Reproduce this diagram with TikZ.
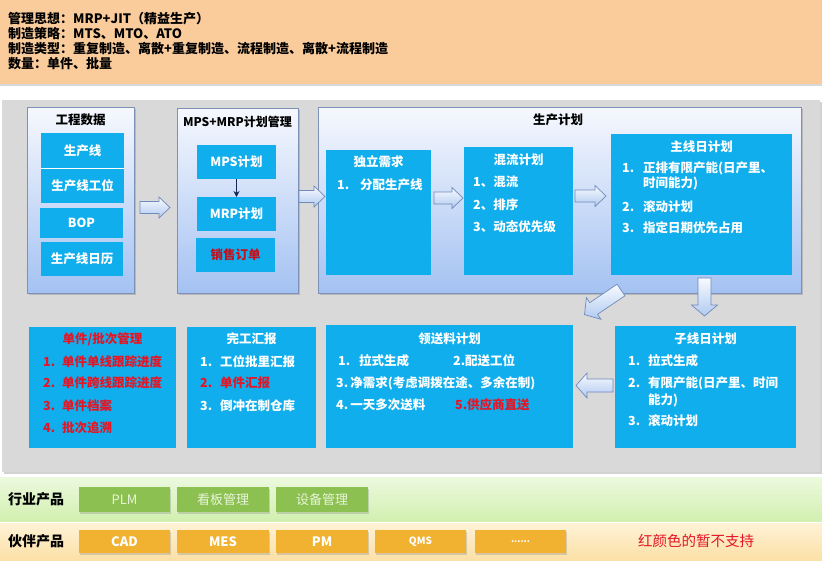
\documentclass[tikz,border=0pt]{standalone}
\usepackage{fontspec}
\setmainfont{Noto Sans CJK SC}
\usetikzlibrary{shadows,arrows.meta}
\definecolor{cyanbox}{RGB}{16,174,236}
\definecolor{greypanel}{RGB}{217,217,217}
\definecolor{headerorange}{RGB}{250,203,155}
\definecolor{panelTop}{RGB}{246,248,254}
\definecolor{panelBot}{RGB}{164,194,242}
\definecolor{panelLine}{RGB}{125,145,182}
\definecolor{arrTop}{RGB}{248,250,255}
\definecolor{arrBot}{RGB}{176,202,240}
\definecolor{arrLine}{RGB}{112,138,186}
\definecolor{redtxt}{RGB}{228,22,38}
\definecolor{darkred}{RGB}{196,16,30}
\definecolor{navy}{RGB}{20,40,90}
\definecolor{greenTop}{RGB}{236,249,222}
\definecolor{greenBot}{RGB}{210,240,176}
\definecolor{greenBtn}{RGB}{140,193,82}
\definecolor{greenBtnTxt}{RGB}{232,244,216}
\definecolor{orangeTop}{RGB}{254,242,214}
\definecolor{orangeBot}{RGB}{252,224,166}
\definecolor{orangeBtn}{RGB}{240,178,48}
\newcommand\myfb{\bfseries\fontsize{12.5}{14}\selectfont}
\newcommand\bx[7]{\node[#1, minimum width={#5-#3}, minimum height={#6-#4}] (#2) at (#3,#4) {#7};}
\newcommand\barrow[6]{%
\begin{scope}[shift={(#1,#2)}, rotate=#3]
\shade[blockarr] (0,-#5) -- ({#4-11},-#5) -- ({#4-11},-#6) -- (#4,0) -- ({#4-11},#6) -- ({#4-11},#5) -- (0,#5) -- cycle;
\end{scope}}
\tikzset{
  base/.style={anchor=north west, inner sep=0pt, outer sep=0pt},
  panel/.style={base, draw=panelLine, line width=0.8pt, top color=panelTop, bottom color=panelBot,
     drop shadow={shadow xshift=1.5pt, shadow yshift=-1.5pt, opacity=0.35}},
  cbox/.style={base, fill=cyanbox, text=white, font=\myfb},
  gbtn/.style={base, fill=greenBtn, text=greenBtnTxt, font=\fontsize{13}{15}\selectfont,
     drop shadow={shadow xshift=1pt, shadow yshift=-1.5pt, opacity=0.3}},
  obtn/.style={base, fill=orangeBtn, text=white, font=\bfseries\fontsize{13}{15}\selectfont,
     drop shadow={shadow xshift=1pt, shadow yshift=-1.5pt, opacity=0.3}},
  ttl/.style={inner sep=0pt, font=\myfb},
  wt/.style={anchor=west, inner sep=0pt, text=white, font=\myfb},
  rt/.style={anchor=west, inner sep=0pt, text=redtxt, font=\myfb},
  hd/.style={anchor=west, inner sep=0pt, font=\bfseries\fontsize{13}{15}\selectfont},
  blockarr/.style={draw=arrLine, line width=0.7pt, top color=arrTop, bottom color=arrBot},
}
\begin{document}
\begin{tikzpicture}[x=1pt,y=-1pt]
\useasboundingbox (0,0) rectangle (822,560);
\fill[white] (0,0) rectangle (822,560);
% header
\bx{base, fill=headerorange, drop shadow={shadow xshift=0pt, shadow yshift=-1.5pt, opacity=0.3}}{header}{0}{0}{822}{84}{}
\node[hd] (h1) at (8,19) {管理思想：MRP+JIT（精益生产）};
\node[hd] (h2) at (8,34) {制造策略：MTS、MTO、ATO};
\node[hd] (h3) at (8,49) {制造类型：重复制造、离散+重复制造、流程制造、离散+流程制造};
\node[hd] (h4) at (8,64) {数量：单件、批量};
% grey panel
\bx{base, fill=greypanel, drop shadow={shadow xshift=1.5pt, shadow yshift=-2pt, opacity=0.35}}{grey}{2}{100}{820}{472}{}
% engineering data
\bx{panel}{eng}{27}{107}{134}{293}{}
\node[ttl] (engt) at (80.5,120) {工程数据};
\bx{cbox}{e1}{41}{133}{124}{168}{生产线}
\bx{cbox}{e2}{41}{169}{124}{203}{生产线工位}
\bx{cbox}{e3}{40}{208}{123}{238}{BOP}
\bx{cbox}{e4}{41}{242}{123}{276}{生产线日历}
\draw[white, line width=0.8pt] (e1.south west) -- (e1.south east);
% MPS+MRP
\bx{panel}{mpsp}{177}{108}{298}{293}{}
\node[ttl, font=\bfseries\fontsize{12}{14}\selectfont] (mpst) at (237.5,122) {MPS+MRP计划管理};
\bx{cbox}{mps}{197}{145}{276}{179}{MPS计划}
\bx{cbox}{mrp}{197}{197}{276}{231}{MRP计划}
\bx{cbox, text=darkred}{so}{196}{238}{275}{272}{销售订单}
\draw[navy, line width=1.2pt, -{Stealth[length=6pt,width=6pt]}] (mps) -- (mrp);
% production plan
\bx{panel}{pp}{318}{107}{801}{293}{}
\node[ttl] (ppt) at (558,120) {生产计划};
\bx{cbox}{dl}{326}{150}{431}{275}{}
\node[ttl, text=white] (dlt) at (378.5,162) {独立需求};
\node[wt] (dl1n) at (337,185) {1.};
\node[wt] (dl1) at (360,185) {分配生产线};
\bx{cbox}{hl}{464}{147}{573}{275}{}
\node[ttl, text=white] (hlt) at (518.5,160) {混流计划};
\node[wt] (hl1) at (473,182) {1、混流};
\node[wt] (hl2) at (473,205) {2、排序};
\node[wt] (hl3) at (473,227) {3、动态优先级};
\bx{cbox}{zx}{611}{134}{792}{275}{}
\node[ttl, text=white] (zxt) at (701.5,147) {主线日计划};
\node[wt] (zx1n) at (622,168) {1.};
\node[wt] (zx1) at (643,168) {正排有限产能(日产里、};
\node[wt] (zx1b) at (643,183) {时间能力)};
\node[wt] (zx2n) at (622,207) {2.};
\node[wt] (zx2) at (643,207) {滚动计划};
\node[wt] (zx3n) at (622,228) {3.};
\node[wt] (zx3) at (643,228) {指定日期优先占用};
% bottom row boxes
\bx{cbox}{dj}{29}{327}{176}{448}{}
\node[ttl, text=redtxt] (djt) at (102.5,339) {单件/批次管理};
\node[rt] (dj1n) at (43,362) {1.};
\node[rt] (dj1) at (62,362) {单件单线跟踪进度};
\node[rt] (dj2n) at (43,383) {2.};
\node[rt] (dj2) at (62,383) {单件跨线跟踪进度};
\node[rt] (dj3n) at (43,406) {3.};
\node[rt] (dj3) at (62,406) {单件档案};
\node[rt] (dj4n) at (43,428) {4.};
\node[rt] (dj4) at (62,428) {批次追溯};
\bx{cbox}{wg}{187}{327}{316}{448}{}
\node[ttl, text=white] (wgt) at (251.5,339) {完工汇报};
\node[wt] (wg1n) at (200,362) {1.};
\node[wt] (wg1) at (220,362) {工位批里汇报};
\node[rt] (wg2n) at (200,383) {2.};
\node[rt] (wg2) at (220,383) {单件汇报};
\node[wt] (wg3n) at (200,406) {3.};
\node[wt] (wg3) at (220,406) {倒冲在制仓库};
\bx{cbox}{ls}{326}{325}{573}{448}{}
\node[ttl, text=white] (lst) at (449.5,339) {领送料计划};
\node[wt] (ls1n) at (338,361) {1.};
\node[wt] (ls1) at (359,361) {拉式生成};
\node[wt] (ls2) at (453,361) {2.配送工位};
\node[wt] (ls3) at (336,383) {3.\,净需求(考虑调拨在途、多余在制)};
\node[wt] (ls4) at (336,405) {4.\,一天多次送料};
\node[rt] (ls5) at (455,405) {5.供应商直送};
\bx{cbox}{zi}{615}{326}{796}{448}{}
\node[ttl, text=white] (zit) at (705.5,339) {子线日计划};
\node[wt] (zi1n) at (628,361) {1.};
\node[wt] (zi1) at (648,361) {拉式生成};
\node[wt] (zi2n) at (628,383) {2.};
\node[wt] (zi2) at (648,383) {有限产能(日产里、时间};
\node[wt] (zi2b) at (648,400) {能力)};
\node[wt] (zi3n) at (628,421) {3.};
\node[wt] (zi3) at (648,421) {滚动计划};
% block arrows
\barrow{140}{207.5}{0}{30}{6}{10.5}
\barrow{299}{196.5}{0}{26}{6}{10.5}
\barrow{434}{198}{0}{29}{6}{10.5}
\barrow{575}{196}{0}{31}{6}{10.5}
\barrow{704.5}{278}{-90}{38}{6.5}{13}
\barrow{621}{290}{214}{44}{7}{13}
\barrow{613}{385.5}{180}{37}{6.5}{12.5}
% green band
\bx{base, top color=greenTop, bottom color=greenBot}{gband}{0}{477}{822}{521}{}
\node[hd, font=\bfseries\fontsize{14}{16}\selectfont] (gl) at (8,499) {行业产品};
\bx{gbtn}{plm}{79}{487}{170}{512}{PLM}
\bx{gbtn}{kb}{177}{487}{269}{512}{看板管理}
\bx{gbtn}{sb}{276}{487}{368}{512}{设备管理}
% orange band
\bx{base, top color=orangeTop, bottom color=orangeBot}{oband}{0}{523}{822}{560}{}
\node[hd, font=\bfseries\fontsize{14}{16}\selectfont] (ol) at (8,541) {伙伴产品};
\bx{obtn}{cad}{79}{530}{170}{553}{CAD}
\bx{obtn}{mes}{177}{530}{269}{553}{MES}
\bx{obtn}{pm}{276}{530}{368}{553}{PM}
\bx{obtn, font=\bfseries\fontsize{10}{12}\selectfont}{qms}{375}{530}{466}{553}{QMS}
\bx{obtn, font=\bfseries\fontsize{9}{11}\selectfont}{dots}{475}{530}{566}{553}{......}
\node[inner sep=0pt, text=redtxt, font=\fontsize{14.5}{16}\selectfont] (note) at (696,541) {红颜色的暂不支持};
\end{tikzpicture}
\end{document}
